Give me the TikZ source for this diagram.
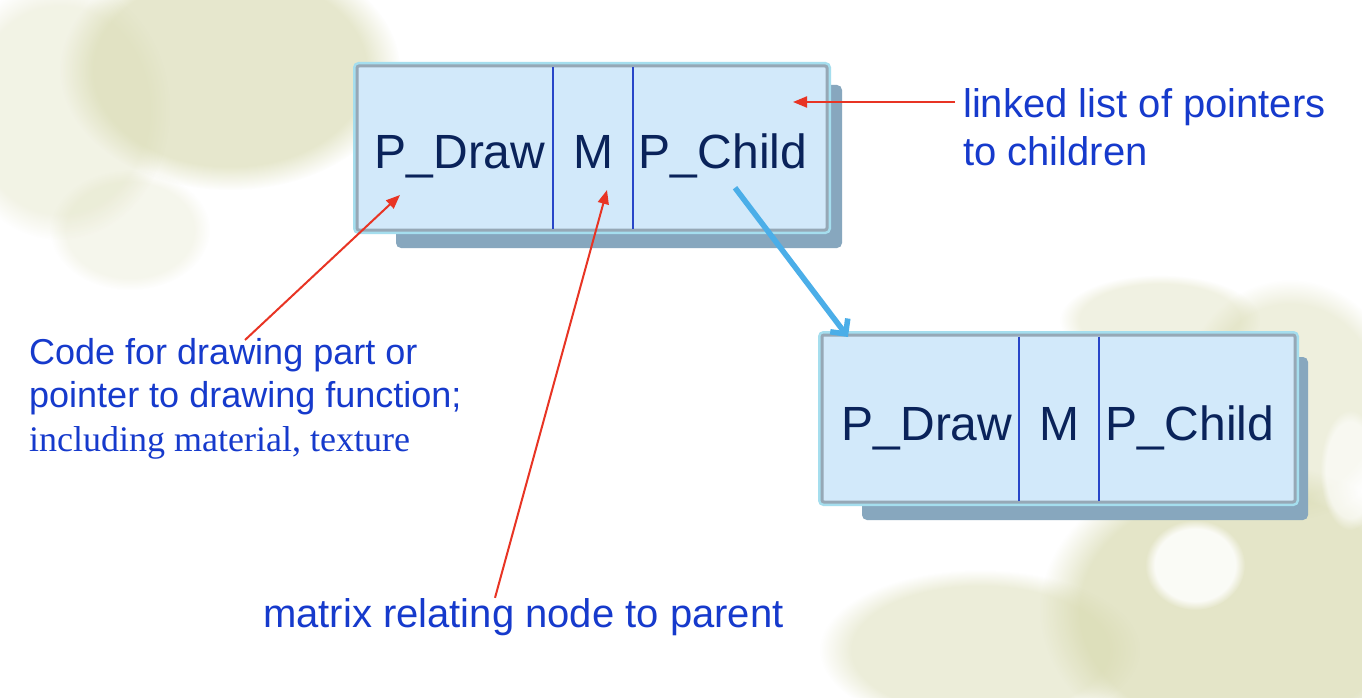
\documentclass[tikz,border=0pt]{standalone}
\usepackage{fontspec}
\setmainfont{Liberation Sans}
\newfontfamily\timesfont{Liberation Serif}
\usetikzlibrary{arrows.meta,calc,fadings}
\definecolor{labelblue}{RGB}{22,58,204}
\definecolor{navytext}{RGB}{10,35,90}
\definecolor{boxfill}{RGB}{210,233,250}
\definecolor{boxborder}{RGB}{150,168,182}
\definecolor{glowc}{RGB}{165,222,238}
\definecolor{shadowc}{RGB}{135,167,190}
\definecolor{redc}{RGB}{232,52,36}
\definecolor{bluearr}{RGB}{75,174,232}
\definecolor{dividerc}{RGB}{40,70,200}
\definecolor{leafc}{RGB}{214,216,172}
\newcommand\softblob[5]{%
  \fill[leafc, opacity=#5, path fading=circle with fuzzy edge 20 percent]
    (#1,#2) ellipse [x radius=#3pt, y radius=#4pt];}
\begin{document}
\begin{tikzpicture}[x=1pt,y=-1pt,
  boxframe/.style={draw=boxborder, line width=3pt, fill=boxfill, rounded corners=2pt,
    preaction={draw=glowc, line width=8pt, rounded corners=4pt},
    inner sep=0pt, outer sep=0pt},
  shadowbox/.style={fill=shadowc, rounded corners=5pt},
  divider/.style={draw=dividerc, line width=1.2pt, shorten <=1.5pt, shorten >=1.5pt},
  celltext/.style={text=navytext, font=\fontsize{48}{56}\selectfont, inner sep=0pt, anchor=base},
  label/.style={text=labelblue, font=\fontsize{40}{48}\selectfont, inner sep=0pt, align=left},
  redarr/.style={draw=redc, line width=2pt, -{Triangle[length=14pt,width=11pt]}},
  bluearrow/.style={draw=bluearr, line width=5.5pt, -{Straight Barb[length=11pt,width=22pt]}}
]
\useasboundingbox (0,0) rectangle (1362,698);
\fill[white] (0,0) rectangle (1362,698);

% soft background leaves
\softblob{230}{70}{170}{120}{0.6}
\softblob{60}{110}{110}{130}{0.3}
\softblob{130}{230}{80}{60}{0.22}
\softblob{1240}{610}{200}{150}{0.65}
\softblob{1290}{400}{110}{120}{0.4}
\softblob{1160}{320}{100}{45}{0.35}
\softblob{980}{650}{160}{80}{0.45}
\fill[white, opacity=0.85, path fading=circle with fuzzy edge 20 percent] (1195,565) ellipse [x radius=50pt, y radius=45pt];
\fill[white, opacity=0.6, path fading=circle with fuzzy edge 20 percent] (1350,470) ellipse [x radius=30pt, y radius=60pt];

% shadows
\fill[shadowbox] (396,85) rectangle (842,248);
\fill[shadowbox] (862,357) rectangle (1308,520);

% box 1
\node[boxframe, minimum width=470pt, minimum height=164pt] (b1) at (592,148) {};
\coordinate (b1d1) at (553,0);
\coordinate (b1d2) at (633,0);
\draw[divider] (b1.north -| b1d1) -- (b1.south -| b1d1);
\draw[divider] (b1.north -| b1d2) -- (b1.south -| b1d2);
\node[celltext] (t11) at (460,168) {P\_Draw};
\node[celltext] (t12) at (593,168) {M};
\node[celltext] (t13) at (723,168) {P\_Child};

% box 2
\node[boxframe, minimum width=473pt, minimum height=167pt] (b2) at (1058.5,418.5) {};
\coordinate (b2d1) at (1019,0);
\coordinate (b2d2) at (1099,0);
\draw[divider] (b2.north -| b2d1) -- (b2.south -| b2d1);
\draw[divider] (b2.north -| b2d2) -- (b2.south -| b2d2);
\node[celltext] (t21) at (927,440) {P\_Draw};
\node[celltext] (t22) at (1059,440) {M};
\node[celltext] (t23) at (1190,440) {P\_Child};

% labels
\node[label, anchor=north west] (lk) at (963,88) {linked list of pointers\\to children};
\node[label, anchor=north west, font=\fontsize{36}{43.5}\selectfont] (code) at (29,338)
  {Code for drawing part or\\pointer to drawing function;\\{\timesfont including material, texture}};
\node[label, anchor=base west] (mx) at (263,627) {matrix relating node to parent};

% arrow tips
\coordinate (tip1) at (793,102);
\coordinate (tip2) at (400,195);
\coordinate (tip3) at (607,190);

\draw[redarr] ($(lk.west |- tip1)+(-8,0)$) -- (tip1);
\draw[redarr] ($(code.north west)+(216,2)$) -- (tip2);
\draw[redarr] ($(mx.north west)+(232,0)$) -- (tip3);

\draw[bluearrow] ($(t13.south)+(12,10)$) -- ($(b2.north west)+(26,2)$);
\end{tikzpicture}
\end{document}
